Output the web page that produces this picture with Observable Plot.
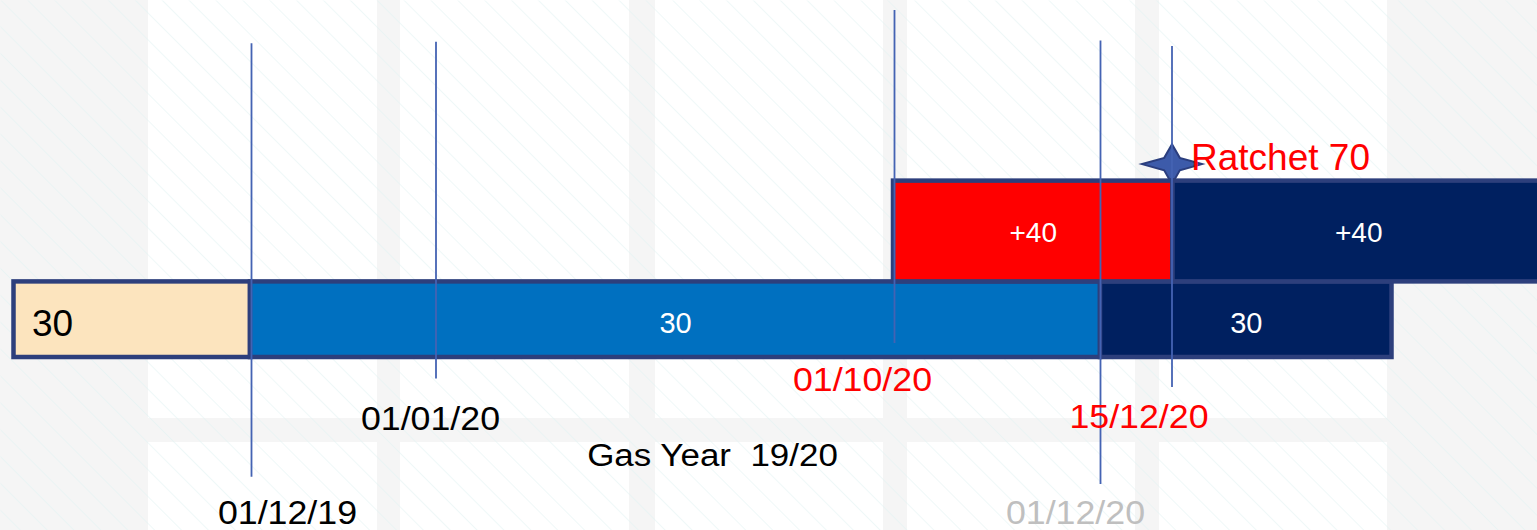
<!DOCTYPE html>
<html>
<head>
<meta charset="utf-8">
<script src="https://cdn.jsdelivr.net/npm/d3@7"></script>
<script src="https://cdn.jsdelivr.net/npm/@observablehq/plot@0.6"></script>
<style>
  html, body { margin: 0; padding: 0; overflow: hidden; }
  body { width: 1537px; height: 530px; background: #F5F5F5; }
  #chart svg { display: block; }
  #chart svg text { white-space: pre; }
</style>
</head>
<body>
<div id="chart"></div>
<script>
// ---- Data (timeline position units, capacity units) ----
const segLabels    = ["30", "30", "30", "+40", "+40"];
const segStart     = [13.5, 250, 1100, 893, 1172.5];
const segEnd       = [250, 1100, 1391.5, 1172.5, 1544];
const segFrom      = [0, 0, 0, 30, 30];
const segTo        = [30, 30, 30, 70, 70];
const segColor     = ["#FCE4BE", "#0070C0", "#002060", "#FF0000", "#002060"];
const segTextColor = ["#000000", "#FFFFFF", "#FFFFFF", "#FFFFFF", "#FFFFFF"];

const dateLabels      = ["01/12/19", "01/01/20", "01/10/20", "01/12/20", "15/12/20"];
const dateLineX       = [251, 435.5, 894, 1100, 1171.5];
const dateLineTop     = [124.5, 125.1, 137.7, 125.6, 123.4];
const dateLineBottom  = [-47.5, -8.5, 5.6, -50.4, -11.9];
const dateLabelX      = [287, 430, 862, 1075, 1138.5];
const dateLabelY      = [-61.8, -24.5, -9.2, -62.0, -23.7];
const dateLabelColor  = ["#000000", "#000000", "#FF0000", "#BFBFBF", "#FF0000"];

const yearLabel   = ["Gas Year  19/20"];
const yearLabelX  = [712];
const yearLabelY  = [-39.0];

const ratchetLabel  = ["Ratchet 70"];
const ratchetX      = [1171.5];
const ratchetLevel  = [70];
const ratchetLabelX = [1280];
const ratchetLabelY = [79.2];

// background tiles
const tileColStart = [148, 400, 655, 907, 1159];
const tileColEnd   = [377, 629, 883, 1135, 1387];
const tileRowTop   = [150, -33.7];
const tileRowBot   = [-24.2, -80];

// ---- Build tables ----
const segments = segLabels.map((label, i) => ({
  label, x1: segStart[i], x2: segEnd[i], y1: segFrom[i], y2: segTo[i],
  fill: segColor[i], color: segTextColor[i],
  lx: i === 0 ? segStart[i] + 18 : (segStart[i] + segEnd[i]) / 2,
  ly: (segFrom[i] + segTo[i]) / 2
}));
const dates = dateLabels.map((label, i) => ({
  label, x: dateLineX[i], top: dateLineTop[i], bottom: dateLineBottom[i],
  lx: dateLabelX[i], ly: dateLabelY[i], color: dateLabelColor[i]
}));
const tiles = [];
tileColStart.forEach((c, i) => tileRowTop.forEach((r, j) => tiles.push({
  x1: c, x2: tileColEnd[i], y1: tileRowBot[j], y2: r
})));
const years = yearLabel.map((label, i) => ({label, x: yearLabelX[i], y: yearLabelY[i]}));
const ratchets = ratchetLabel.map((label, i) => ({
  label, x: ratchetX[i], level: ratchetLevel[i], lx: ratchetLabelX[i], ly: ratchetLabelY[i]
}));

// four-point star symbol (wide horizontally)
const star = {
  draw(ctx, size) {
    const r = Math.sqrt(size / Math.PI);
    const v = r * 0.66, w = r * 0.26;
    ctx.moveTo(0, -v);
    ctx.lineTo(w, -w * 0.8);
    ctx.lineTo(r, 0);
    ctx.lineTo(w, w * 0.8);
    ctx.lineTo(0, v);
    ctx.lineTo(-w, w * 0.8);
    ctx.lineTo(-r, 0);
    ctx.lineTo(-w, -w * 0.8);
    ctx.closePath();
  }
};

const FONT = "'Liberation Sans', Arial, Helvetica, sans-serif";

const chart = Plot.plot({
  width: 1537,
  height: 530,
  margin: 0,
  x: {type: "linear", domain: [0, 1537], axis: null},
  y: {type: "linear", domain: [-68.65, 141.67], axis: null},
  style: {background: "transparent", fontFamily: FONT, overflow: "visible"},
  marks: [
    Plot.rect(tiles, {x1: "x1", x2: "x2", y1: "y1", y2: "y2", fill: "#FFFFFF"}),
    Plot.frame({fill: "url(#hatch)", stroke: null}),
    Plot.dot(ratchets, {x: "x", y: "level", dy: -17, r: 30, symbol: star,
      fill: "#3D5BAA", stroke: "#2B3E7E", strokeWidth: 2}),
    Plot.rect(segments, {x1: "x1", x2: "x2", y1: "y1", y2: "y2", fill: "fill",
      stroke: "#2D3F7C", strokeWidth: 4.5}),
    Plot.ruleX(dates, {x: "x", y1: "bottom", y2: "top", stroke: "#4463B3", strokeWidth: 1.8}),
    Plot.text(segments.filter((d, i) => i === 0), {x: "lx", y: "ly", dy: 4, text: "label",
      fill: "color", fontSize: 37, textAnchor: "start"}),
    Plot.text(segments.filter((d, i) => i > 0 && d.y1 === 0), {x: "lx", y: "ly", dy: 4, text: "label",
      fill: "color", fontSize: 29, textAnchor: "middle"}),
    Plot.text(segments.filter(d => d.y1 > 0), {x: "lx", y: "ly", dy: 2, text: "label",
      fill: "color", fontSize: 28, textAnchor: "middle"}),
    Plot.text(dates, {x: "lx", y: "ly", text: "label", fill: "color", fontSize: 32.5,
      textAnchor: "middle"}),
    Plot.text(years, {x: "x", y: "y", text: "label", fill: "#000000", fontSize: 31.5,
      textAnchor: "middle"}),
    Plot.text(ratchets, {x: "lx", y: "ly", text: "label", fill: "#FF0000", fontSize: 37,
      textAnchor: "middle"})
  ]
});

// hatch pattern definition
const ns = "http://www.w3.org/2000/svg";
const defs = document.createElementNS(ns, "defs");
defs.innerHTML = '<pattern id="hatch" patternUnits="userSpaceOnUse" width="19" height="19" patternTransform="rotate(-45)">' +
  '<line x1="0" y1="0" x2="0" y2="19" stroke="#E2F2F3" stroke-width="1.1"/></pattern>';
chart.prepend(defs);

// the slide's date and gas-year labels are horizontally stretched
chart.querySelectorAll("text").forEach(t => {
  const s = t.textContent;
  let k = 0;
  if (dateLabels.includes(s)) k = 1.1;
  else if (yearLabel.includes(s)) k = 1.11;
  if (k) {
    const tr = t.getAttribute("transform") || "";
    t.setAttribute("transform", `${tr} scale(${k},1)`);
  }
});

document.getElementById("chart").appendChild(chart);
</script>
</body>
</html>
